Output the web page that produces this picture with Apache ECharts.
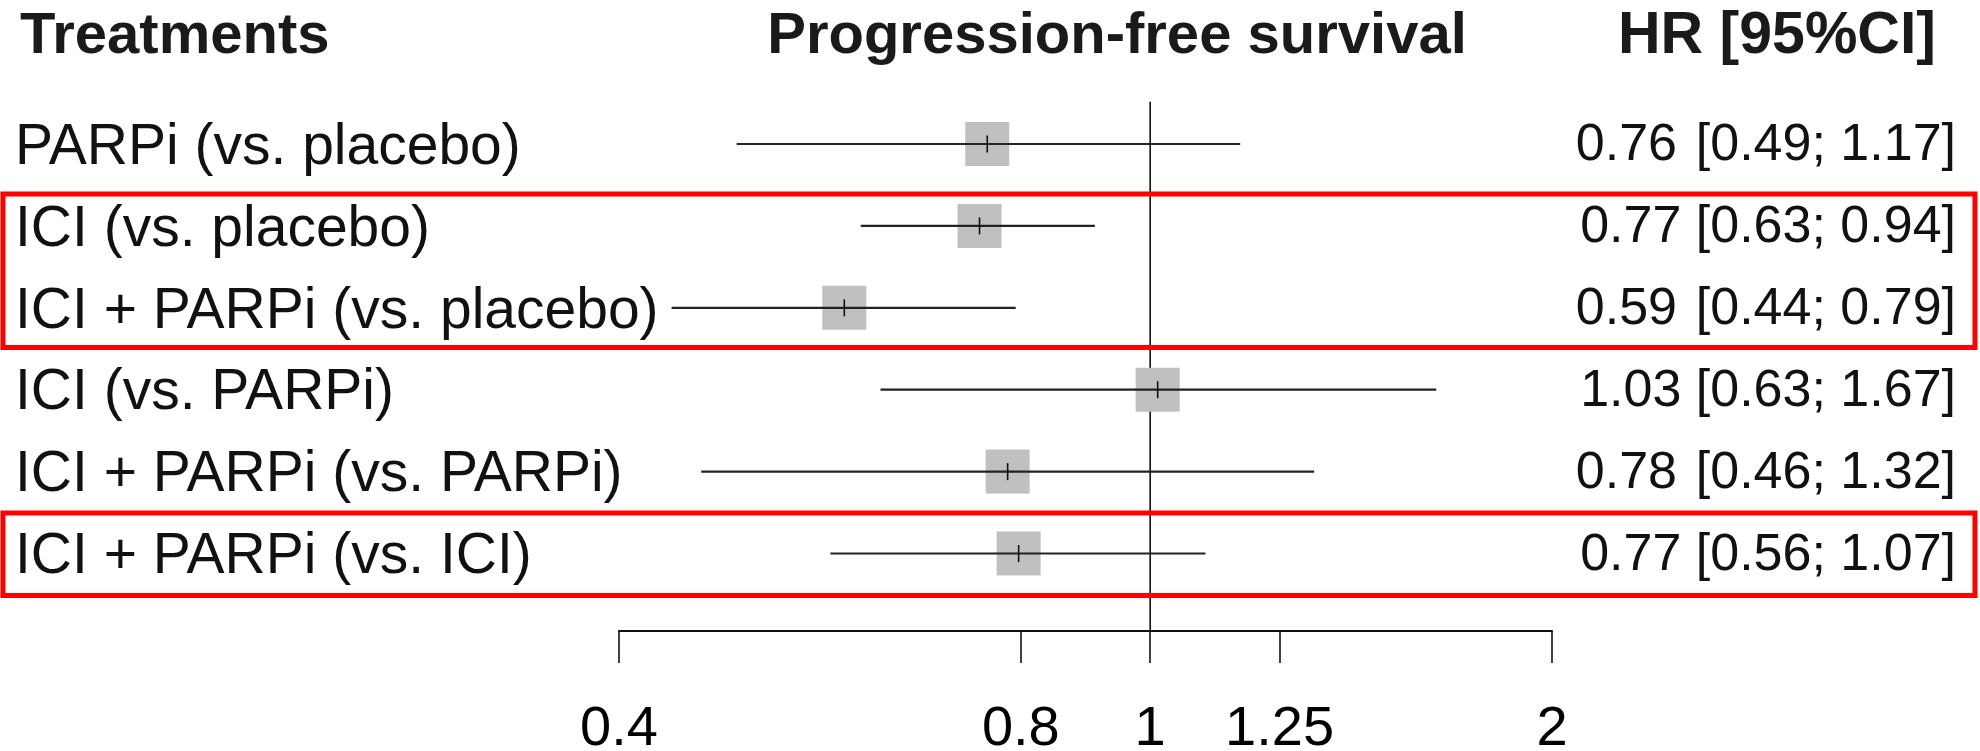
<!DOCTYPE html>
<html><head><meta charset="utf-8">
<script src="https://cdn.jsdelivr.net/npm/echarts@6/dist/echarts.min.js"></script>
<style>html,body{margin:0;padding:0;background:#fff}#c{width:1980px;height:751px}</style>
</head><body><div id="c"></div>
<script>
// ---- data ----
const treatments = ['PARPi (vs. placebo)', 'ICI (vs. placebo)', 'ICI + PARPi (vs. placebo)', 'ICI (vs. PARPi)', 'ICI + PARPi (vs. PARPi)', 'ICI + PARPi (vs. ICI)'];
const hrPoint = [0.755, 0.745, 0.59, 1.013, 0.782, 0.797];
const ciLower = [0.49, 0.607, 0.438, 0.628, 0.461, 0.576];
const ciUpper = [1.168, 0.909, 0.793, 1.638, 1.327, 1.10];
const hrText = ['0.76 \u200A[0.49; 1.17]', '0.77 [0.63; 0.94]', '0.59 \u200A[0.44; 0.79]', '1.03 [0.63; 1.67]', '0.78 \u200A[0.46; 1.32]', '0.77 [0.56; 1.07]'];
const tickValues = [0.4, 0.8, 1, 1.25, 2];
const tickLabels = ['0.4', '0.8', '1', '1.25', '2'];
const headers = ['Treatments', 'Progression-free survival', 'HR [95%CI]'];
const highlightRows = [[1, 2], [5, 5]];
const refValue = 1;

// ---- chart ----
const FONT = '"Liberation Sans", Arial, Helvetica, sans-serif';
const ln = Math.log;
const Y_MIN = -0.5165, Y_MAX = 5.946;
const chart = echarts.init(document.getElementById('c'), null, {renderer: 'canvas'});

const rowData = treatments.map((t, i) => [ln(hrPoint[i]), i, ln(ciLower[i]), ln(ciUpper[i])]);
const boxData = highlightRows.map((g, k) => [0, g[0], g[1], k]);

function tickLabel(v) {
  let best = 0, bd = Infinity;
  tickValues.forEach((t, k) => { const d = Math.abs(ln(t) - v); if (d < bd) { bd = d; best = k; } });
  return tickLabels[best];
}

const option = {
  backgroundColor: '#ffffff',
  animation: false,
  grid: {left: 619, right: 428, top: 101.7, bottom: 120, outerBoundsMode: 'none', containLabel: false},
  xAxis: {
    type: 'value', min: ln(0.4), max: ln(2), position: 'bottom',
    axisLine: {show: true, onZero: false, lineStyle: {color: '#111', width: 2}},
    axisTick: {show: true, length: 32, customValues: tickValues.map(ln), lineStyle: {color: '#111', width: 1.6}},
    axisLabel: {show: true, customValues: tickValues.map(ln), formatter: tickLabel, fontSize: 56, fontFamily: FONT, color: '#000', margin: 71},
    splitLine: {show: false}
  },
  yAxis: {type: 'value', inverse: true, min: Y_MIN, max: Y_MAX, show: false, splitLine: {show: false}},
  graphic: [
    {type: 'text', x: 20, y: 37, style: {text: headers[0], font: 'bold 58px ' + FONT, fill: '#1a1a1a', align: 'left', verticalAlign: 'middle'}},
    {type: 'text', x: 1117, y: 37, style: {text: headers[1], font: 'bold 58px ' + FONT, fill: '#1a1a1a', align: 'center', verticalAlign: 'middle'}},
    {type: 'text', x: 1777, y: 37, style: {text: headers[2], font: 'bold 59px ' + FONT, fill: '#1a1a1a', align: 'center', verticalAlign: 'middle'}}
  ],
  series: [
    {
      type: 'line', data: [[ln(refValue), Y_MIN], [ln(refValue), Y_MAX]], symbol: 'none', z: 1,
      lineStyle: {color: '#111', width: 1.6}, silent: true
    },
    {
      type: 'custom', z: 3, clip: false, data: rowData,
      encode: {x: 0, y: 1},
      renderItem: function (params, api) {
        const i = api.value(1);
        const pt = api.coord([api.value(0), i]);
        const lo = api.coord([api.value(2), i]);
        const hi = api.coord([api.value(3), i]);
        const s = 44;
        return {type: 'group', children: [
          {type: 'rect', shape: {x: pt[0] - s / 2, y: pt[1] - s / 2, width: s, height: s}, style: {fill: '#c0c0c0'}},
          {type: 'line', shape: {x1: lo[0], y1: lo[1], x2: hi[0], y2: hi[1]}, style: {stroke: '#222', lineWidth: 2.2}},
          {type: 'line', shape: {x1: pt[0], y1: pt[1] - 8.5, x2: pt[0], y2: pt[1] + 8.5}, style: {stroke: '#111', lineWidth: 1.6}},
          {type: 'text', style: {text: treatments[i], x: 15, y: pt[1] + 4, font: '57px ' + FONT, fill: '#111', align: 'left', verticalAlign: 'middle'}},
          {type: 'text', style: {text: hrText[i], x: 1956, y: pt[1] + 2, font: '52px ' + FONT, fill: '#111', align: 'right', verticalAlign: 'middle'}}
        ]};
      }
    },
    {
      type: 'custom', z: 5, clip: false, data: boxData,
      encode: {x: 0, y: 1},
      renderItem: function (params, api) {
        const first = api.value(3) === 0;
        const top = api.coord([0, api.value(1) - (first ? 0.39 : 0.495)])[1];
        const bot = api.coord([0, api.value(2) + (first ? 0.485 : 0.513)])[1];
        return {type: 'rect', shape: {x: 3, y: top, width: 1972, height: bot - top}, style: {fill: 'none', stroke: '#ff0000', lineWidth: 5}};
      }
    }
  ]
};
chart.setOption(option);
</script>
</body></html>
